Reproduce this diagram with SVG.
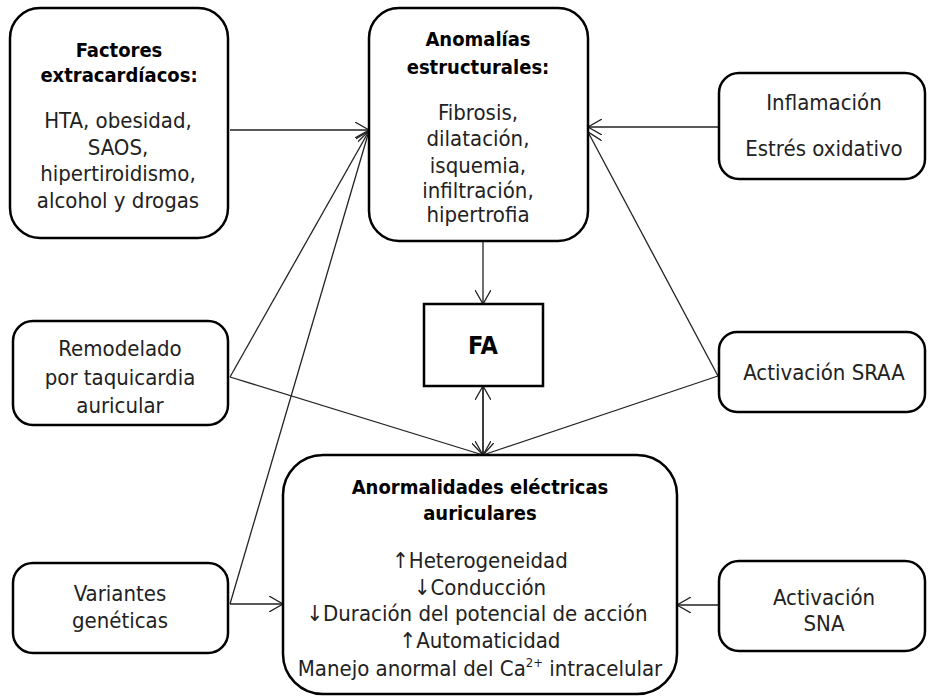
<svg xmlns="http://www.w3.org/2000/svg" width="929" height="698" viewBox="0 0 929 698">
<style>
.box{fill:#fff;stroke:#000;stroke-width:2.5}
.t{font-family:"DejaVu Sans Condensed","DejaVu Sans",sans-serif;font-size:22px;fill:#222;text-anchor:middle}
.b{font-family:"DejaVu Sans Condensed","DejaVu Sans",sans-serif;font-size:20px;font-weight:bold;fill:#000;text-anchor:middle}
.c{stroke:#222;stroke-width:1.3;fill:none}
.a{marker-end:url(#ah)}
</style>
<defs>
<marker id="ah" markerUnits="userSpaceOnUse" viewBox="0 0 14 16" markerWidth="14" markerHeight="16" refX="14" refY="8" orient="auto">
<path d="M0,0 L14,8 L0,16" fill="none" stroke="#222" stroke-width="1.3"/>
</marker>
</defs>
<rect width="929" height="698" fill="#fff"/>
<g id="connectors">
<line class="c a" x1="230" y1="130" x2="369" y2="130"/>
<line class="c a" x1="230" y1="377" x2="369" y2="131"/>
<line class="c a" x1="230" y1="604" x2="369" y2="131"/>
<line class="c a" x1="719" y1="127" x2="588" y2="127"/>
<line class="c a" x1="718" y1="376" x2="588" y2="132"/>
<line class="c a" x1="483" y1="241" x2="483" y2="304"/>
<line class="c a" x1="483" y1="455" x2="483" y2="386"/>
<line class="c a" x1="483" y1="386" x2="483" y2="455"/>
<line class="c a" x1="230" y1="377" x2="483" y2="455"/>
<line class="c a" x1="718" y1="376" x2="483" y2="455"/>
<line class="c a" x1="230" y1="604" x2="283" y2="604"/>
<line class="c a" x1="719" y1="605" x2="677" y2="605"/>
</g>
<g id="factores">
<rect class="box" x="10" y="8" width="218" height="230" rx="30"/>
<text class="b" x="119" y="57">Factores</text>
<text class="b" x="119" y="82">extracardíacos:</text>
<text class="t" x="118" y="128">HTA, obesidad,</text>
<text class="t" x="118" y="155">SAOS,</text>
<text class="t" x="118" y="181">hipertiroidismo,</text>
<text class="t" x="118" y="208">alcohol y drogas</text>
</g>
<g id="anomalias">
<rect class="box" x="369" y="8" width="219" height="233" rx="30"/>
<text class="b" x="478" y="46">Anomalías</text>
<text class="b" x="478" y="74">estructurales:</text>
<text class="t" x="478" y="120">Fibrosis,</text>
<text class="t" x="478" y="146">dilatación,</text>
<text class="t" x="478" y="173">isquemia,</text>
<text class="t" x="478" y="198">infiltración,</text>
<text class="t" x="478" y="222">hipertrofia</text>
</g>
<g id="inflamacion">
<rect class="box" x="719" y="73" width="206" height="106" rx="20"/>
<text class="t" x="824" y="110">Inflamación</text>
<text class="t" x="824" y="156">Estrés oxidativo</text>
</g>
<g id="fa">
<rect class="box" x="424" y="304" width="119" height="82"/>
<text x="483" y="354" font-family="'DejaVu Sans Condensed','DejaVu Sans',sans-serif" font-size="25" font-weight="bold" text-anchor="middle">FA</text>
</g>
<g id="remodelado">
<rect class="box" x="13" y="321" width="215" height="104" rx="20"/>
<text class="t" x="120" y="356">Remodelado</text>
<text class="t" x="120" y="385">por taquicardia</text>
<text class="t" x="120" y="413">auricular</text>
</g>
<g id="sraa">
<rect class="box" x="719" y="332" width="206" height="80" rx="18"/>
<text class="t" x="824" y="380">Activación SRAA</text>
</g>
<g id="anormalidades">
<rect class="box" x="283" y="455" width="394" height="239" rx="40"/>
<text class="b" x="480" y="494">Anormalidades eléctricas</text>
<text class="b" x="480" y="520">auriculares</text>
<text class="t" x="480" y="568">↑Heterogeneidad</text>
<text class="t" x="480" y="595">↓Conducción</text>
<text class="t" x="477" y="621">↓Duración del potencial de acción</text>
<text class="t" x="480" y="648">↑Automaticidad</text>
<text class="t" x="480" y="676">Manejo anormal del Ca<tspan font-size="13" dy="-9">2+</tspan><tspan dy="9"> intracelular</tspan></text>
</g>
<g id="variantes">
<rect class="box" x="13" y="563" width="215" height="90" rx="20"/>
<text class="t" x="120" y="601">Variantes</text>
<text class="t" x="120" y="628">genéticas</text>
</g>
<g id="sna">
<rect class="box" x="719" y="561" width="206" height="90" rx="20"/>
<text class="t" x="824" y="605">Activación</text>
<text class="t" x="824" y="631">SNA</text>
</g>
</svg>
